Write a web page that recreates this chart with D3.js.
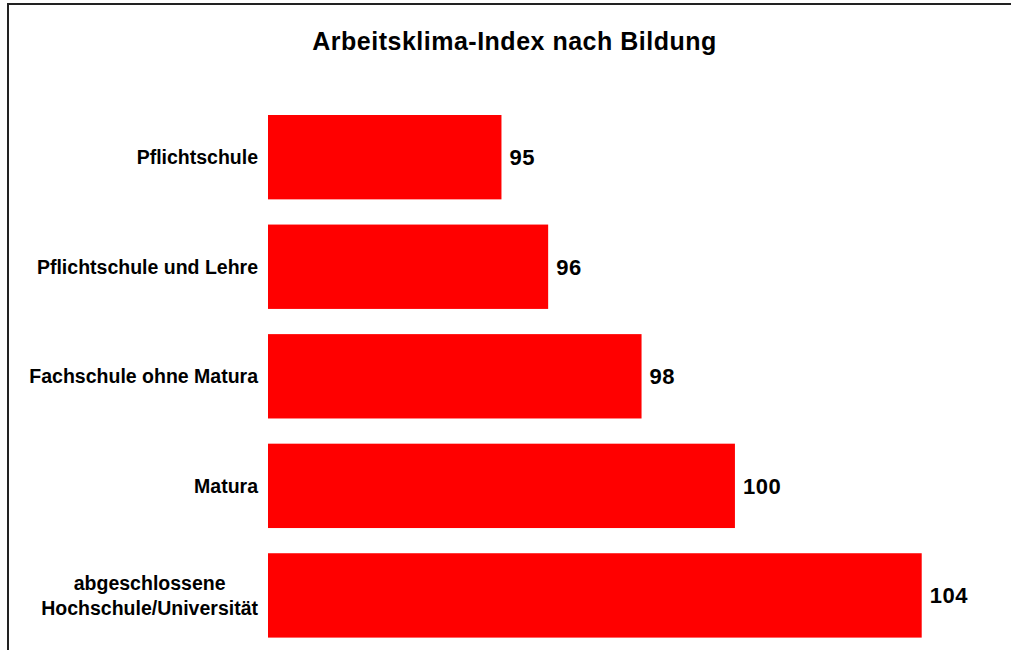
<!DOCTYPE html>
<html>
<head>
<meta charset="utf-8">
<script src="https://cdn.jsdelivr.net/npm/d3@7"></script>
<style>
  body { margin: 0; background: #fff; }
  svg { display: block; }
  text { font-family: "Liberation Sans", Arial, sans-serif; font-weight: bold; fill: #000; }
</style>
</head>
<body>
<div id="chart"></div>
<script>
const width = 1011;
const height = 650;

// Data ////////////////////////////////////////
const title = "Arbeitsklima-Index nach Bildung";
const categories = [
  ["Pflichtschule"],
  ["Pflichtschule und Lehre"],
  ["Fachschule ohne Matura"],
  ["Matura"],
  ["abgeschlossene", "Hochschule/Universität"]
];
const values = [95, 96, 98, 100, 104];
const xDomain = [90, 105];

const svg = d3.select("#chart")
  .append("svg")
  .attr("width", width)
  .attr("height", height);

// frame (cropped at right and bottom)
svg.append("rect")
  .attr("x", 8)
  .attr("y", 4)
  .attr("width", 1020)
  .attr("height", 700)
  .attr("fill", "none")
  .attr("stroke", "#222")
  .attr("stroke-width", 2);

// Scales //////////////////////////////////////
const x = d3.scaleLinear()
  .domain(xDomain)
  .range([268, 968.4]);

const y = d3.scaleBand()
  .domain(d3.range(categories.length))
  .range([102.4, 650.2])
  .paddingInner(0.23)
  .paddingOuter(0.115);

svg.append("text")
  .attr("x", 514.5)
  .attr("y", 50)
  .attr("text-anchor", "middle")
  .style("font-size", "25px")
  .style("letter-spacing", "0.5px")
  .text(title);

// bars
svg.selectAll(".bar")
  .data(values)
  .enter()
  .append("rect")
  .attr("class", "bar")
  .attr("x", x(xDomain[0]))
  .attr("y", (d, i) => y(i))
  .attr("width", d => x(d) - x(xDomain[0]))
  .attr("height", y.bandwidth())
  .attr("fill", "#ff0000");

// value labels
svg.selectAll(".val")
  .data(values)
  .enter()
  .append("text")
  .attr("class", "val")
  .attr("x", d => x(d) + 8)
  .attr("y", (d, i) => y(i) + y.bandwidth() / 2)
  .attr("dy", "0.36em")
  .style("font-size", "22px")
  .style("letter-spacing", "0.6px")
  .text(d => d);

// category labels: block right-aligned, lines centered within block
const labelRight = 258;
const lineH = 25;
categories.forEach((lines, i) => {
  const g = svg.append("g");
  const cy = y(i) + y.bandwidth() / 2;
  const texts = lines.map((ln, j) => g.append("text")
    .attr("y", cy + (j - (lines.length - 1) / 2) * lineH)
    .attr("dy", "0.36em")
    .attr("text-anchor", "middle")
    .style("font-size", "19.5px")
    .text(ln));
  const maxW = d3.max(texts, t => t.node().getComputedTextLength());
  texts.forEach(t => t.attr("x", labelRight - maxW / 2));
});
</script>
</body>
</html>
